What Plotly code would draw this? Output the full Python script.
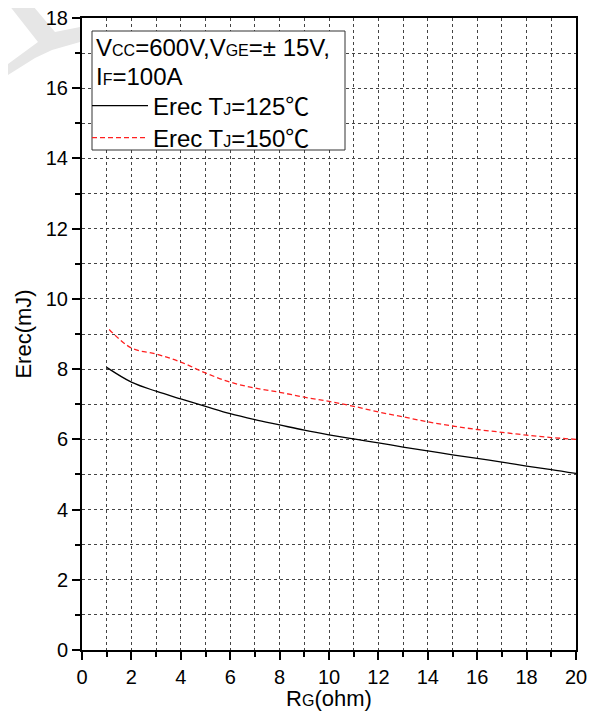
import plotly.graph_objects as go

rg = [1, 2, 3, 4, 5, 6, 7, 8, 9, 10, 11, 12, 13, 14, 15, 16, 17, 18, 19, 20]
erec_125 = [8.05, 7.63, 7.37, 7.15, 6.94, 6.73, 6.56, 6.41, 6.26, 6.13, 6.01, 5.9, 5.78, 5.67, 5.56, 5.46, 5.35, 5.24, 5.14, 5.03]
rg_150 = [1.1, 2, 3, 4, 5, 6, 7, 8, 9, 10, 11, 12, 13, 14, 15, 16, 17, 18, 19, 20]
erec_150 = [9.13, 8.6, 8.43, 8.2, 7.89, 7.63, 7.46, 7.34, 7.2, 7.08, 6.94, 6.78, 6.64, 6.5, 6.38, 6.28, 6.2, 6.12, 6.05, 6.0]
cond_line1 = "V<sub16>CC</sub16>=600V,V<sub16>GE</sub16>=± 15V,"
cond_line2 = "I<sub16>F</sub16>=100A"

FONT = "Liberation Sans, Arial, sans-serif"
DEG = "<span style='font-family:Noto Sans CJK SC'>℃</span>"

def sub(s):
    return s.replace("<sub16>", "<span style='font-size:16px'>").replace("</sub16>", "</span>")

fig = go.Figure()
fig.add_trace(go.Scatter(x=rg, y=erec_125, mode="lines",
                         line=dict(color="black", width=1.3, shape="spline"),
                         name=sub("Erec T<sub16>J</sub16>=125") + DEG, legend="legend"))
fig.add_trace(go.Scatter(x=rg_150, y=erec_150, mode="lines",
                         line=dict(color="#ff2020", width=1.3, dash="5px,3px", shape="spline"),
                         name=sub("Erec T<sub16>J</sub16>=150") + DEG, legend="legend2"))

# page body has 8px margin; figure coords = reference coords - 8
PL, PR, PT, PB = 74, 568, 10, 642
def px(x):
    return (x - 8 - PL) / (PR - PL)
def py(y):
    return (PB - (y - 8)) / (PB - PT)

wm = [(5, 0), (28, 0), (55, 32), (80, 27), (80, 42), (52, 50), (35, 58), (0, 80), (0, 70), (38, 42)]
path = "M " + " L ".join(f"{px(a):.4f},{py(b):.4f}" for a, b in wm) + " Z"
fig.add_shape(type="path", path=path, xref="paper", yref="paper",
              fillcolor="#e6e6e6", line=dict(width=0), layer="below")

# legend box
fig.add_shape(type="rect", xref="paper", yref="paper",
              x0=px(92), x1=px(345), y0=py(150), y1=py(31),
              fillcolor="white", line=dict(color="#333", width=1), layer="above")
fig.add_annotation(text=sub(cond_line1), xref="paper", yref="paper", x=px(94), y=py(47),
                   xanchor="left", yanchor="middle", showarrow=False,
                   font=dict(size=24, family=FONT, color="black"))
fig.add_annotation(text=sub(cond_line2), xref="paper", yref="paper", x=px(94), y=py(76),
                   xanchor="left", yanchor="middle", showarrow=False,
                   font=dict(size=24, family=FONT, color="black"))

def axis(title, tsize, standoff):
    return dict(dtick=2, tick0=0, ticks="outside", ticklen=8, tickwidth=2, tickcolor="black",
                showline=True, linewidth=2, linecolor="black", mirror=True, zeroline=False,
                showgrid=True, gridcolor="#444", griddash="dot", gridwidth=1,
                minor=dict(dtick=1, ticks="outside", ticklen=5, tickwidth=1.5, tickcolor="black",
                           showgrid=True, gridcolor="#444", griddash="dot", gridwidth=1),
                title=dict(text=title, font=dict(size=tsize), standoff=standoff),
                tickfont=dict(size=20), automargin=False, ticklabeloverflow="allow")

leg = dict(xanchor="left", yanchor="middle", borderwidth=0, bgcolor="rgba(0,0,0,0)",
           font=dict(size=24, family=FONT), tracegroupgap=0, itemwidth=56)

fig.update_layout(
    width=587, height=703,
    margin=dict(l=PL, r=587 - PR, t=PT, b=703 - PB),
    plot_bgcolor="white", paper_bgcolor="white",
    font=dict(family=FONT, color="black", size=20),
    showlegend=True,
    legend=dict(x=px(87), y=py(106), **leg),
    legend2=dict(x=px(87), y=py(138), **leg),
    xaxis=dict(range=[0, 20], **axis(sub("R<sub16>G</sub16>(ohm)"), 22, 2)),
    yaxis=dict(range=[0, 18], **axis("Erec(mJ)", 22, 8)),
)
fig.write_html("out.html")
